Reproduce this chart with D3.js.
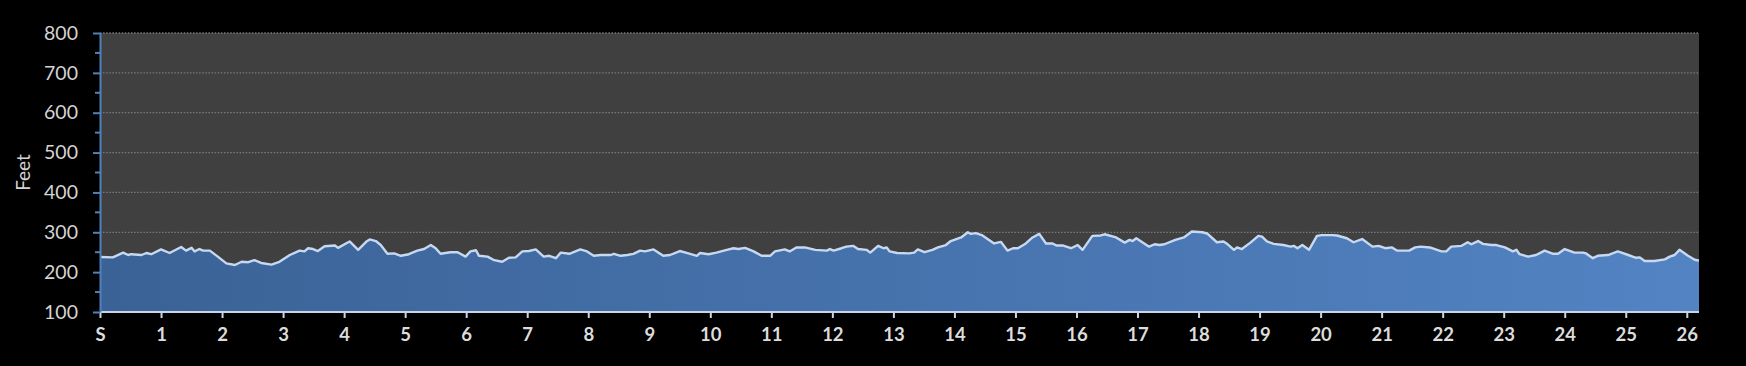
<!DOCTYPE html>
<html>
<head>
<meta charset="utf-8">
<script src="https://cdn.jsdelivr.net/npm/d3@7"></script>
<style>
  html, body { margin: 0; padding: 0; background: #000; }
  svg { display: block; }
</style>
</head>
<body>
<svg id="chart" width="1746" height="366"></svg>
<script>
const miles = [0.00,0.21,0.38,0.46,0.51,0.68,0.76,0.84,1.00,1.14,1.33,1.41,1.50,1.55,1.63,1.69,1.80,1.93,2.07,2.21,2.32,2.43,2.53,2.64,2.81,2.94,3.11,3.27,3.35,3.41,3.49,3.57,3.68,3.85,3.90,4.09,4.23,4.36,4.42,4.52,4.60,4.71,4.82,4.93,5.06,5.20,5.31,5.42,5.50,5.58,5.74,5.86,5.99,6.07,6.16,6.21,6.35,6.46,6.59,6.70,6.81,6.92,7.03,7.14,7.27,7.36,7.47,7.55,7.69,7.87,7.98,8.09,8.21,8.37,8.42,8.53,8.64,8.74,8.85,8.93,9.07,9.23,9.34,9.50,9.64,9.78,9.83,9.97,10.10,10.27,10.38,10.46,10.57,10.71,10.84,10.98,11.06,11.22,11.30,11.41,11.55,11.72,11.91,11.96,12.02,12.15,12.23,12.34,12.42,12.56,12.62,12.75,12.84,12.89,12.94,13.06,13.26,13.34,13.40,13.51,13.64,13.73,13.86,13.94,14.11,14.22,14.27,14.35,14.46,14.65,14.76,14.87,14.96,15.04,15.17,15.28,15.39,15.50,15.61,15.67,15.77,15.91,16.02,16.10,16.26,16.40,16.46,16.65,16.79,16.87,16.92,16.98,17.19,17.28,17.36,17.44,17.62,17.76,17.89,18.06,18.14,18.30,18.41,18.46,18.58,18.63,18.71,18.85,18.98,19.04,19.12,19.23,19.39,19.51,19.56,19.62,19.70,19.81,19.94,20.02,20.19,20.27,20.43,20.54,20.68,20.85,20.95,21.06,21.17,21.25,21.45,21.55,21.64,21.79,21.98,22.06,22.14,22.31,22.41,22.47,22.58,22.66,22.80,22.88,23.02,23.15,23.21,23.26,23.40,23.53,23.67,23.81,23.89,24.00,24.16,24.30,24.35,24.46,24.54,24.71,24.87,25.04,25.17,25.23,25.31,25.47,25.64,25.72,25.80,25.88,26.02,26.13,26.20];
const elevation = [238,237,249,243,245,243,248,245,257,248,263,254,261,252,258,254,254,239,222,218,226,225,230,223,219,226,243,254,252,260,258,253,265,267,261,277,256,276,282,278,268,246,247,241,245,254,258,268,260,246,250,250,239,252,255,241,239,230,226,236,237,252,253,257,239,241,235,249,246,257,252,241,243,243,246,241,243,246,254,252,257,241,243,253,247,241,248,245,249,256,260,258,261,252,241,241,252,257,252,262,262,256,254,258,254,260,264,266,258,256,249,266,260,262,252,248,247,249,257,250,256,262,268,278,287,300,296,298,292,272,276,254,260,260,272,287,296,272,272,267,267,260,268,256,291,292,295,287,274,281,278,285,264,270,268,270,281,287,302,300,297,275,277,272,256,262,258,274,291,289,277,271,268,264,266,260,268,256,291,293,293,292,285,275,283,264,266,260,262,254,254,262,264,262,252,252,264,266,275,270,278,271,268,268,262,252,256,245,239,243,254,246,246,258,249,249,247,235,241,243,252,243,236,237,228,228,232,239,243,256,241,231,229];
const xTicks = [0,1,2,3,4,5,6,7,8,9,10,11,12,13,14,15,16,17,18,19,20,21,22,23,24,25,26];
const xTickLabels = ["S","1","2","3","4","5","6","7","8","9","10","11","12","13","14","15","16","17","18","19","20","21","22","23","24","25","26"];
const yTicks = [100,200,300,400,500,600,700,800];
const yMinorTicks = [150,250,350,450,550,650,750];
const yLabel = "Feet";

const svg = d3.select("#chart");
const L = 100, R = 1699, T = 33, B = 312;
const x = d3.scaleLinear().domain([0, 26.2]).range([L, R]);
const y = d3.scaleLinear().domain([100, 800]).range([B, T]);

svg.append("rect").attr("x", L).attr("y", T).attr("width", R - L).attr("height", B - T).attr("fill", "#404040");

svg.append("g").selectAll("line").data(yTicks.filter(d => d > 100)).join("line")
  .attr("x1", L).attr("x2", R).attr("y1", d => y(d)).attr("y2", d => y(d))
  .attr("stroke", "#7a7a7a").attr("stroke-width", 1.3).attr("stroke-dasharray", "1.5,1.6");

const defs = svg.append("defs");
const grad = defs.append("linearGradient").attr("id", "areaGrad").attr("x1", "0%").attr("x2", "100%").attr("y1", "0%").attr("y2", "0%");
grad.append("stop").attr("offset", "0%").attr("stop-color", "#3a6296");
grad.append("stop").attr("offset", "100%").attr("stop-color", "#5383c3");

const data = miles.map((m, i) => ({ m, e: elevation[i] }));
const area = d3.area().x(d => x(d.m)).y0(y(100)).y1(d => y(d.e));
const line = d3.line().x(d => x(d.m)).y(d => y(d.e));

svg.append("path").datum(data).attr("d", area).attr("fill", "url(#areaGrad)");
svg.append("path").datum(data).attr("d", line).attr("fill", "none")
  .attr("stroke", "#c6d9f1").attr("stroke-width", 2.4).attr("stroke-linejoin", "round");

const xAxis = d3.axisBottom(x).tickValues(xTicks).tickFormat((d, i) => xTickLabels[i]).tickSize(6).tickPadding(10).tickSizeOuter(0);
const gx = svg.append("g").attr("transform", `translate(0,${B})`).call(xAxis);
gx.select(".domain").attr("stroke", "#c8d5e8").attr("stroke-width", 2).attr("d", `M${L},0H${R}`);
gx.selectAll(".tick line").attr("stroke", "#c8d5e8").attr("stroke-width", 2);
gx.selectAll(".tick text").attr("fill", "#dcdcdc").attr("font-family", "Lato, 'Open Sans', sans-serif")
  .attr("font-weight", "bold").attr("font-size", 18.5);

const yAxis = d3.axisLeft(y).tickValues(yTicks).tickSize(7).tickPadding(15).tickSizeOuter(0);
const gy = svg.append("g").attr("transform", `translate(${L},0)`).call(yAxis);
gy.select(".domain").attr("stroke", "#4f81bd").attr("stroke-width", 2);
gy.selectAll(".tick line").attr("stroke", "#4f81bd").attr("stroke-width", 2);
gy.selectAll(".tick text").attr("fill", "#d4d4d4").attr("font-family", "Lato, 'Open Sans', sans-serif")
  .attr("font-size", 19.5);
svg.append("g").selectAll("line").data(yMinorTicks).join("line")
  .attr("x1", L - 5).attr("x2", L).attr("y1", d => y(d)).attr("y2", d => y(d))
  .attr("stroke", "#4f81bd").attr("stroke-width", 2);

svg.append("text").attr("transform", `translate(22,${(T + B) / 2}) rotate(-90)`)
  .attr("text-anchor", "middle").attr("dominant-baseline", "central")
  .attr("fill", "#d4d4d4").attr("font-family", "Lato, 'Open Sans', sans-serif").attr("font-size", 19)
  .text(yLabel);
</script>
</body>
</html>
